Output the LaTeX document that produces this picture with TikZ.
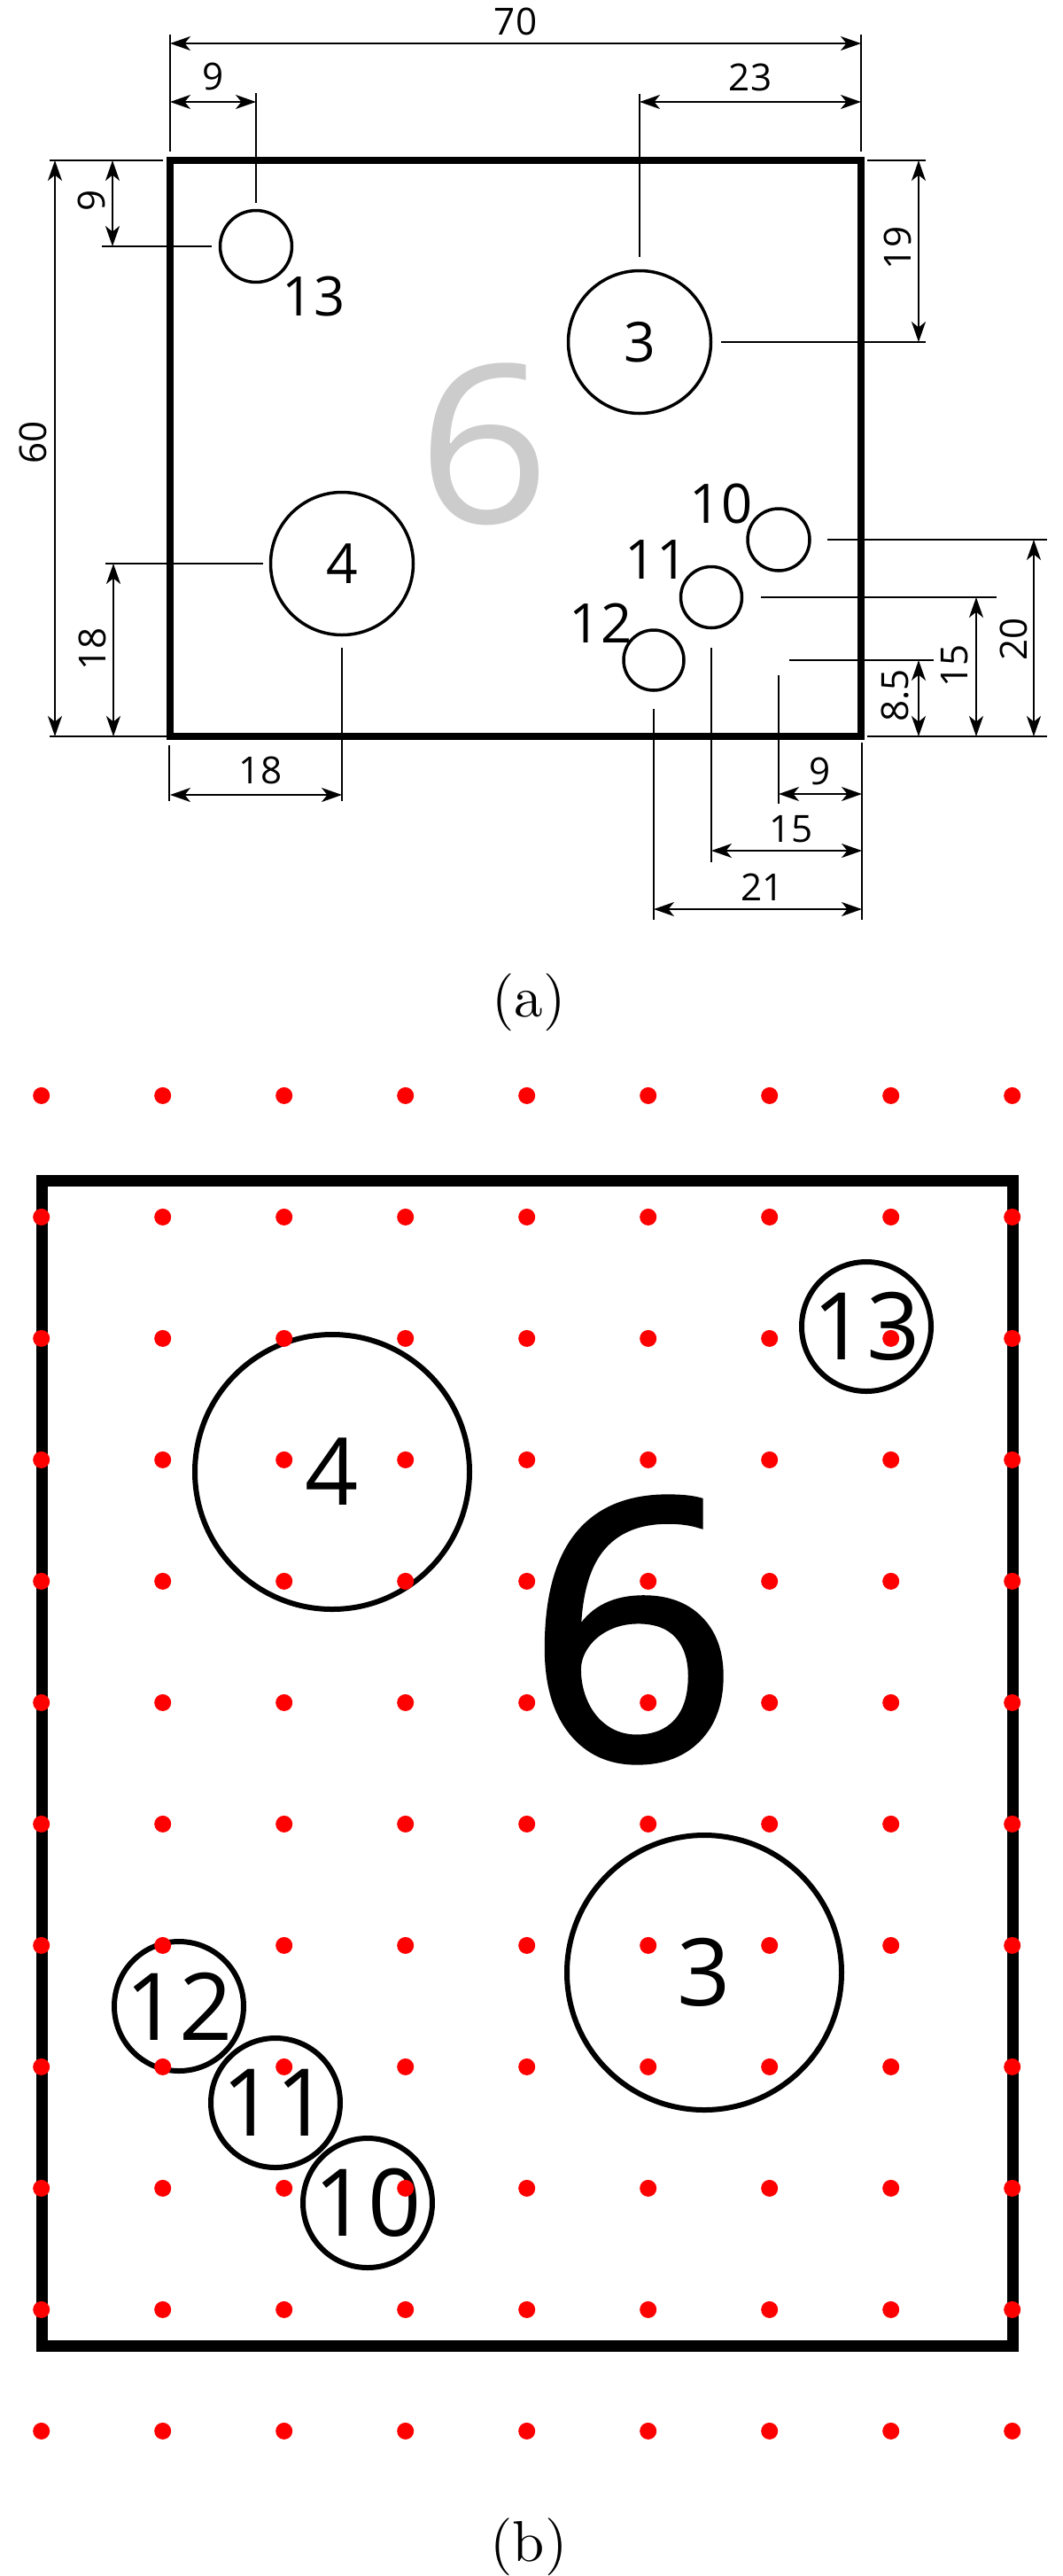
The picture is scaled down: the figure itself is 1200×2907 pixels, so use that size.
\documentclass[tikz,border=0pt]{standalone}
\usepackage{fontspec}
\usepackage{tikz}
\usetikzlibrary{arrows.meta}
\newfontfamily\digitfont{Open Sans}
\newfontfamily\heavydigit{Open Sans}[RawFeature={embolden=1.5}]
\tikzset{
  wall/.style={line width=1.6mm, line join=miter},
  wallb/.style={line width=2.6mm, line join=miter},
  ext/.style={line width=0.4mm},
  dim/.style={line width=0.4mm, {Stealth[length=4.6mm,width=3.2mm,inset=1.3mm]}-{Stealth[length=4.6mm,width=3.2mm,inset=1.3mm]}},
  hole/.style={draw, circle, inner sep=0pt, outer sep=0pt, line width=0.7mm, font=\digitfont\fontsize{35.5}{35.5}\selectfont},
  holeb/.style={draw, circle, inner sep=0pt, outer sep=0pt, line width=1.2mm, minimum size=29.2mm, font=\digitfont\fontsize{60}{60}\selectfont},
  tag/.style={inner sep=0pt, font=\digitfont\fontsize{35}{35}\selectfont},
  size/.style={inner sep=0pt, font=\digitfont\fontsize{24}{24}\selectfont},
  caption/.style={inner sep=0pt, scale=3.7, font=\normalfont}
}
\begin{document}
\begin{tikzpicture}[x=0.2mm, y=-0.2mm]
\useasboundingbox (0,0) rectangle (1200,2907);
% panel a
\coordinate (A) at (192, 181);
\coordinate (B) at (972, 831);
\draw[wall] (A) rectangle (B);
\node[hole, minimum size=16.2mm] (h13) at (289, 278) {};
\node[hole, minimum size=32.2mm] (h3) at (722, 386) {3};
\node[hole, minimum size=32.2mm] (h4) at (386, 636) {4};
\node[hole, minimum size=14mm] (h10) at (879, 609) {};
\node[hole, minimum size=13.8mm] (h11) at (803, 674) {};
\node[hole, minimum size=13.6mm] (h12) at (738, 745) {};
\node[tag] (t13) at (354, 335) {13};
\node[tag] (t10) at (814, 568) {10};
\node[tag] (t11) at (741, 632) {11};
\node[tag] (t12) at (678, 703) {12};
\node[text=black!20, inner sep=0pt, xscale=1.05, font=\digitfont\fontsize{142}{142}\selectfont] (big6a) at (546, 501) {6};
% extension lines
\draw[ext] (192, 39) -- (192, 171);
\draw[ext] (972, 39) -- (972, 171);
\draw[ext] (289, 105) -- (289, 229);
\draw[ext] (722, 106) -- (722, 290);
\draw[ext] (56, 181) -- (184, 181);
\draw[ext] (56, 831) -- (188, 831);
\draw[ext] (115, 278) -- (239, 278);
\draw[ext] (119, 636) -- (297, 636);
\draw[ext] (979, 181) -- (1045, 181);
\draw[ext] (814, 386) -- (1045, 386);
\draw[ext] (934, 609) -- (1182, 609);
\draw[ext] (859, 674) -- (1125, 674);
\draw[ext] (891, 745) -- (1054, 745);
\draw[ext] (979, 831) -- (1182, 831);
\draw[ext] (879, 762) -- (879, 907);
\draw[ext] (803, 731) -- (803, 973);
\draw[ext] (738, 800) -- (738, 1038);
\draw[ext] (386, 731) -- (386, 904);
\draw[ext] (191, 841) -- (191, 904);
\draw[ext] (973, 838) -- (973, 1038);
% dimensions
\draw[dim] (192, 49) -- (972, 49) node[size, midway, above=4.5pt] (d70) {70};
\draw[dim] (192, 115) -- (289, 115) node[size, midway, above=7pt] (d9a) {9};
\draw[dim] (722, 115) -- (972, 115) node[size, midway, above=6.5pt] (d23) {23};
\draw[dim] (192, 897) -- (386, 897) node[size, midway, above=6.5pt, xshift=1mm] (d18a) {18};
\draw[dim] (879, 896) -- (973, 896) node[size, midway, above=5pt] (d9b) {9};
\draw[dim] (803, 960) -- (973, 960) node[size, midway, above=4.5pt, xshift=1mm] (d15a) {15};
\draw[dim] (738, 1026) -- (973, 1026) node[size, midway, above=5pt, xshift=1mm] (d21) {21};
\draw[dim] (62, 181) -- (62, 831);
\draw[dim] (127, 181) -- (127, 278);
\draw[dim] (128, 636) -- (128, 831);
\draw[dim] (1037, 181) -- (1037, 386);
\draw[dim] (1037, 745) -- (1037, 831);
\draw[dim] (1102, 674) -- (1102, 831);
\draw[dim] (1167, 609) -- (1167, 831);
\node[size, rotate=90] (d60) at (37, 499) {60};
\node[size, rotate=90] (d9c) at (103, 226) {9};
\node[size, rotate=90] (d18b) at (104, 732) {18};
\node[size, rotate=90] (d19) at (1013, 280) {19};
\node[size, rotate=90] (d85) at (1011, 785) {8.5};
\node[size, rotate=90] (d15b) at (1078, 751) {15};
\node[size, rotate=90] (d20) at (1144, 721) {20};
\node[caption] (capa) at (597, 1131) {(a)};
% panel b
\coordinate (C) at (47, 1332);
\coordinate (D) at (1143, 2647);
\draw[wallb] (C) rectangle (D);
\node[holeb, minimum size=62mm] (b4) at (375, 1661) {4};
\node[holeb, minimum size=62mm] (b3) at (795, 2226) {3};
\node[holeb] (b13) at (978, 1497) {13};
\node[holeb] (b12) at (202, 2264) {12};
\node[holeb] (b11) at (311, 2373) {11};
\node[holeb] (b10) at (415, 2486) {10};
\node[inner sep=0pt, xscale=1.03, font=\heavydigit\fontsize{232}{232}\selectfont] (big6b) at (714, 1839) {6};
\foreach \i in {0,...,8} {
  \foreach \j in {0,...,11} {
    \fill[red] (46.7+137*\i, 1236.4+137*\j) circle[radius=9.5];
  }
}
\node[caption] (capb) at (597, 2874) {(b)};
\end{tikzpicture}
\end{document}
